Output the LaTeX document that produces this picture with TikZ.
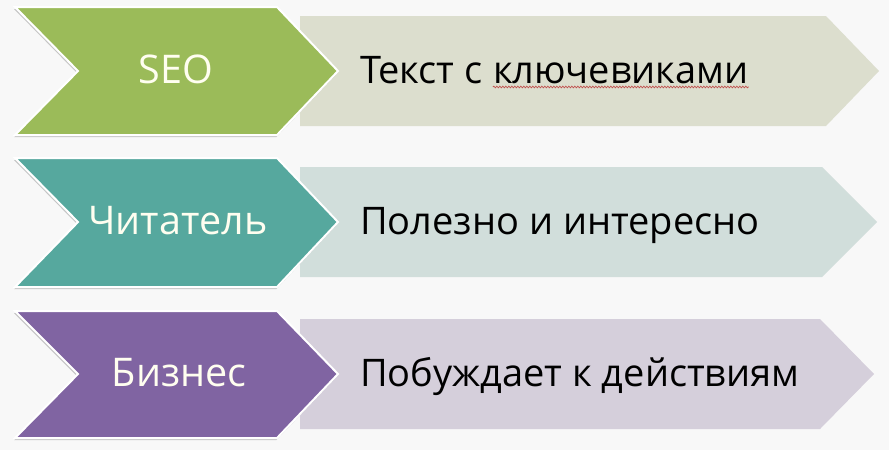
\documentclass[tikz,border=0pt]{standalone}
\usepackage{fontspec}
\newfontfamily\leftfont{Open Sans}
\newfontfamily\rightfont{Open Sans}
\usetikzlibrary{shadows,decorations.pathmorphing}
\definecolor{bg}{HTML}{F8F8F8}
\definecolor{cgreen}{HTML}{9BBB59}
\definecolor{cteal}{HTML}{56A89E}
\definecolor{cpurple}{HTML}{8064A2}
\definecolor{pgreen}{HTML}{DCDECE}
\definecolor{pteal}{HTML}{D1DEDB}
\definecolor{ppurple}{HTML}{D5CFDB}
\definecolor{squig}{HTML}{C0504D}
\tikzset{
  chev/.style={draw=white, line width=2pt, line join=miter,
    drop shadow={shadow xshift=-0.8pt, shadow yshift=-2.2pt, opacity=0.35, fill=black!60}},
  ltext/.style={inner sep=0pt, text=white!94!yellow, font=\leftfont\fontsize{39.5}{47}\selectfont},
  rtext/.style={inner sep=0pt, text=black, anchor=base west, font=\rightfont\fontsize{38}{45}\selectfont},
}
\begin{document}
\begin{tikzpicture}[x=1pt,y=-1pt]
\fill[bg] (0,0) rectangle (889,450);
\useasboundingbox (0,0) rectangle (889,450);
% row 1
\fill[pgreen] (300,16) -- (826,16) -- (879,71) -- (826,126) -- (300,126) -- cycle;
\path[chev, fill=cgreen] (15,7) -- (277,7) -- (338,71) -- (277,135) -- (15,135) -- (78,71) -- cycle;
\node[ltext] (seo) at (176,69) {SEO};
\node[rtext] (t1) at (360,83) {Текст с};
\node[rtext] (t1k) at ([xshift=10pt]t1.base east) {ключевиками};
\draw[squig, line width=0.7pt, decorate, decoration={snake, amplitude=0.8pt, segment length=3pt}]
  ([yshift=-4pt]t1k.base west) -- ([yshift=-4pt]t1k.base east);
% row 2
\fill[pteal] (300,167) -- (822,167) -- (877,222) -- (822,277) -- (300,277) -- cycle;
\path[chev, fill=cteal] (15,158) -- (277,158) -- (338,222) -- (277,287) -- (15,287) -- (78,222) -- cycle;
\node[ltext] (reader) at (178,221) {Читатель};
\node[rtext] (t2) at (360,234) {Полезно и интересно};
% row 3
\fill[ppurple] (300,319) -- (820,319) -- (874,374) -- (820,429) -- (300,429) -- cycle;
\path[chev, fill=cpurple] (15,311) -- (277,311) -- (338,374) -- (277,438) -- (15,438) -- (78,374) -- cycle;
\node[ltext] (biz) at (179,373) {Бизнес};
\node[rtext] (t3) at (360,386) {Побуждает к действиям};
\end{tikzpicture}
\end{document}
